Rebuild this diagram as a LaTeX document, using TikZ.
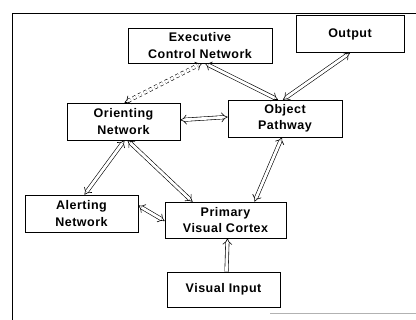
\documentclass[tikz,border=0pt]{standalone}
\usepackage{fontspec}
\setmainfont[LetterSpace=4]{Liberation Sans}
\usetikzlibrary{arrows.meta}
\begin{document}
\begin{tikzpicture}[x=1pt,y=-1pt,
  box/.style={draw=black,line width=0.6pt,inner sep=0pt,align=center,
    font=\fontsize{12.5}{16.5}\selectfont\bfseries},
  dbl/.style={draw=black,line width=0.6pt,double=white,double distance=2.8pt,
    {Implies[scale=1.3]}-{Implies[scale=1.3]}},
  sgl/.style={draw=black,line width=0.6pt,double=white,double distance=2.8pt,
    -{Implies[scale=1.3]}},
  dsh/.style={dbl,dashed}]
\useasboundingbox (0,0) rectangle (416,320);
\draw[line width=0.7pt] (12,320) -- (12,13) -- (416,13);
\draw[line width=0.5pt,gray!60] (270,313) -- (416,313);

\node[box,minimum width=144pt,minimum height=35pt] (exe) at (200,45.5) {Executive\\Control Network};
\node[box,minimum width=108pt,minimum height=37pt] (out) at (350,34) {Output};
\node[box,minimum width=113pt,minimum height=37pt] (ori) at (123.5,121.5) {Orienting\\Network};
\node[box,minimum width=114pt,minimum height=37pt] (obj) at (285,118.5) {Object\\Pathway};
\node[box,minimum width=113pt,minimum height=37pt] (ale) at (81.5,213.5) {Alerting\\Network};
\node[box,minimum width=121pt,minimum height=36pt] (pvc) at (225.5,220) {Primary\\Visual Cortex};
\node[box,minimum width=113pt,minimum height=35pt] (vin) at (223.5,289.5) {Visual Input};

\draw[dsh] ([xshift=1pt]ori.north) -- ([xshift=2pt]exe.south);
\draw[dbl] ([xshift=5pt]exe.south) -- ([xshift=-7pt]obj.north);
\draw[dbl] ([xshift=-2pt]obj.north) -- ([xshift=0pt]out.south);
\draw[dbl] ([yshift=1.5pt]ori.east) -- ([yshift=1.5pt]obj.west);
\draw[dbl] ([xshift=1pt]ori.south) -- ([xshift=3pt]ale.north);
\draw[dbl] ([xshift=4pt]ori.south) -- ([xshift=-33pt]pvc.north);
\draw[dbl] ([xshift=-3pt]obj.south) -- ([xshift=29pt]pvc.north);
\draw[dbl] ([yshift=8pt]ale.east) -- ([yshift=-1pt]pvc.west);
\draw[sgl] ([xshift=3pt]vin.north) -- ([xshift=2pt]pvc.south);
\end{tikzpicture}
\end{document}
